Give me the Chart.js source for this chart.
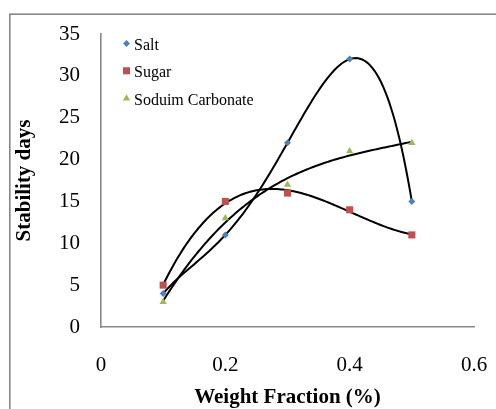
<!DOCTYPE html>
<html>
<head>
<meta charset="utf-8">
<script src="https://cdn.jsdelivr.net/npm/chart.js@4/dist/chart.umd.min.js"></script>
<style>
  html, body { margin: 0; padding: 0; background: #fff; }
  #wrap { width: 496px; height: 409px; }
</style>
</head>
<body>
<div id="wrap"><canvas id="c" width="496" height="409"></canvas></div>
<script>
// ---- data ----
const weightFraction = [0.1, 0.2, 0.3, 0.4, 0.5];
const saltDays = [4, 11, 22, 32, 15];
const sugarDays = [5, 15, 16, 14, 11];
const sodiumCarbonateDays = [3, 13, 17, 21, 22];
const seriesNames = ['Salt', 'Sugar', 'Soduim Carbonate'];
const trendOrders = [4, 3, 3];          // polynomial trendline order per series
const xTickValues = [0, 0.2, 0.4, 0.6];
const yTickValues = [0, 5, 10, 15, 20, 25, 30, 35];
const xTitle = 'Weight Fraction (%)';
const yTitle = 'Stability days';

// ---- styles ----
const colors = ['#4F81BD', '#C0504D', '#9BBB59'];
const pointStyles = ['rectRot', 'rect', 'triangle'];
const pointRadii = [3.5, 5, 4.2];
const serif = "'Liberation Serif', 'Times New Roman', serif";

// least-squares polynomial trendline computed from the data
function polyFit(xs, ys, order) {
  const c = xs.reduce((a, b) => a + b, 0) / xs.length, s = 10;
  const n = order + 1;
  const A = Array.from({length: n}, () => new Array(n + 1).fill(0));
  xs.forEach((x, k) => {
    const u = (x - c) * s;
    const p = [];
    for (let i = 0; i < n; i++) p.push(Math.pow(u, i));
    for (let i = 0; i < n; i++) {
      for (let j = 0; j < n; j++) A[i][j] += p[i] * p[j];
      A[i][n] += p[i] * ys[k];
    }
  });
  for (let i = 0; i < n; i++) {
    let m = i;
    for (let r = i + 1; r < n; r++) if (Math.abs(A[r][i]) > Math.abs(A[m][i])) m = r;
    [A[i], A[m]] = [A[m], A[i]];
    for (let r = 0; r < n; r++) {
      if (r === i) continue;
      const f = A[r][i] / A[i][i];
      for (let col = i; col <= n; col++) A[r][col] -= f * A[i][col];
    }
  }
  const coef = A.map((row, i) => row[n] / row[i]);
  return x => { const u = (x - c) * s; let v = 0; for (let i = n - 1; i >= 0; i--) v = v * u + coef[i]; return v; };
}

const allSeries = [saltDays, sugarDays, sodiumCarbonateDays];
const datasets = [];
allSeries.forEach((ys, si) => {
  const f = polyFit(weightFraction, ys, trendOrders[si]);
  const x0 = Math.min(...weightFraction), x1 = Math.max(...weightFraction);
  const steps = 120;
  const line = [];
  for (let k = 0; k <= steps; k++) { const x = x0 + (x1 - x0) * k / steps; line.push({x, y: f(x)}); }
  datasets.push({
    label: seriesNames[si] + ' trend', data: line, showLine: true, borderColor: '#000',
    borderWidth: 2, pointRadius: 0, fill: false, tension: 0, order: 2
  });
});
allSeries.forEach((ys, si) => {
  datasets.push({
    label: seriesNames[si],
    data: weightFraction.map((x, i) => ({x, y: ys[i]})),
    showLine: false, pointStyle: pointStyles[si], pointRadius: pointRadii[si],
    backgroundColor: colors[si], borderColor: colors[si], borderWidth: 0, order: 1
  });
});

const decorPlugin = {
  id: 'decor',
  beforeDraw(chart) {
    const ctx = chart.ctx;
    ctx.save();
    ctx.fillStyle = '#fff';
    ctx.fillRect(0, 0, chart.width, chart.height);
    ctx.strokeStyle = '#878787';
    ctx.lineWidth = 1.6;
    ctx.strokeRect(9.8, 14.2, 600, 600);
    ctx.restore();
  },
  afterDraw(chart) {
    const ctx = chart.ctx;
    const ca = chart.chartArea;
    ctx.save();
    ctx.fillStyle = '#000';
    // axis titles
    ctx.font = 'bold 21px ' + serif;
    ctx.textAlign = 'center';
    ctx.textBaseline = 'middle';
    ctx.fillText(xTitle, (ca.left + ca.right) / 2, 398);
    ctx.translate(25, (ca.top + ca.bottom) / 2);
    ctx.rotate(-Math.PI / 2);
    ctx.fillText(yTitle, 0, 0);
    ctx.restore();
    // legend
    ctx.save();
    ctx.font = '16px ' + serif;
    ctx.textAlign = 'left';
    ctx.textBaseline = 'alphabetic';
    const baselines = [50, 77.3, 105];
    seriesNames.forEach((name, i) => {
      const cy = baselines[i] - 6.5;
      ctx.fillStyle = colors[i];
      ctx.strokeStyle = colors[i];
      Chart.helpers.drawPoint(ctx, {pointStyle: pointStyles[i], radius: pointRadii[i], rotation: 0, borderWidth: 0}, 126.5, cy);
      ctx.fillStyle = '#000';
      ctx.fillText(name, 134, baselines[i]);
    });
    ctx.restore();
  }
};

new Chart(document.getElementById('c'), {
  type: 'scatter',
  data: { datasets },
  options: {
    responsive: false,
    animation: false,
    devicePixelRatio: 1,
    layout: { padding: { left: 0, top: 34, right: 22, bottom: 0 } },
    plugins: { legend: { display: false }, tooltip: { enabled: false } },
    scales: {
      x: {
        type: 'linear', min: 0, max: 0.6,
        afterBuildTicks(scale) { scale.ticks = xTickValues.map(v => ({value: v})); },
        afterFit(scale) { scale.height = 82; },
        grid: { display: false, drawTicks: true, tickLength: 26 },
        border: { display: true, color: '#898989', width: 1.6 },
        ticks: { color: '#000', padding: 0, font: { family: serif, size: 21 }, maxRotation: 0,
                 callback: v => String(v) }
      },
      y: {
        type: 'linear', min: 0, max: 35,
        afterBuildTicks(scale) { scale.ticks = yTickValues.map(v => ({value: v})); },
        afterFit(scale) { scale.width = 101; },
        grid: { display: false, drawTicks: true, tickLength: 21 },
        border: { display: true, color: '#898989', width: 1.6 },
        ticks: { color: '#000', padding: 0, font: { family: serif, size: 21 },
                 callback: v => String(v) }
      }
    }
  },
  plugins: [decorPlugin]
});
</script>
</body>
</html>
